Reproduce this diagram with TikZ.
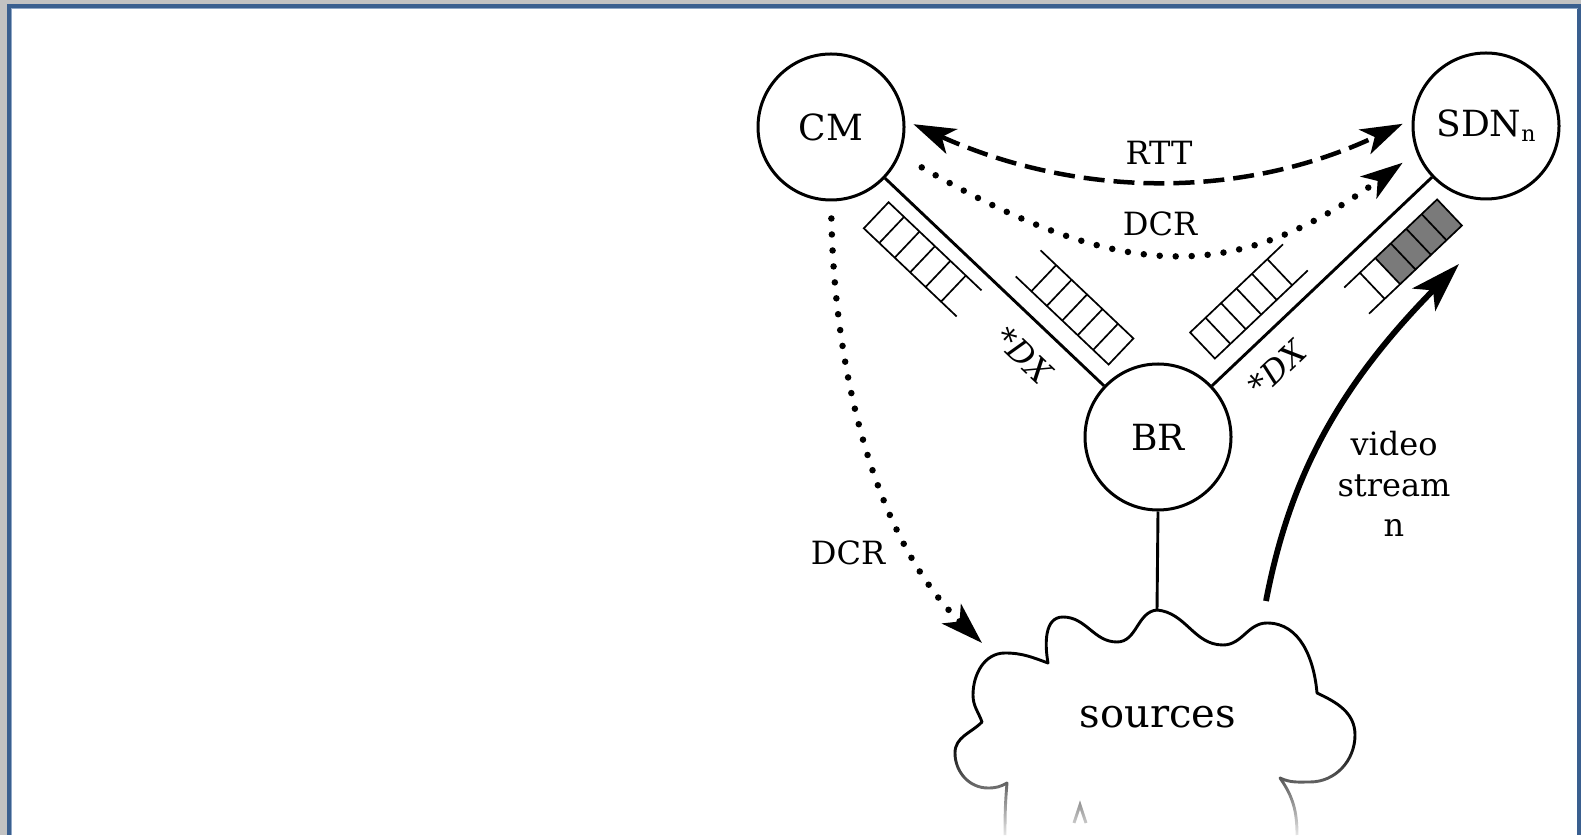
\documentclass[tikz,border=0pt]{standalone}
\usepackage{fontspec}
\setmainfont{DejaVu Serif}
\usetikzlibrary{arrows.meta,fadings}

\definecolor{framegray}{HTML}{C2C2C2}
\definecolor{frameblue}{HTML}{3A5F8F}
\definecolor{frameedge}{HTML}{8FA7C6}
\definecolor{queuegray}{HTML}{7A7A7A}

% white veil that hides the lower rim of the cloud progressively
\tikzfading[name=cloudfade, top color=transparent!100, bottom color=transparent!8]

% a buffer: closed end at the origin, five cells along +x, open tail
\newcommand{\drawqueue}[4]{%
  \begin{scope}[shift={(#1,#2)}, rotate=#3, line width=1.7pt]
    \ifnum#4>0 \fill[queuegray] (0,-18) rectangle (#4*21.3,18);\fi
    \draw (128,-18) -- (0,-18) -- (0,18) -- (128,18);
    \foreach \k in {1,...,5} \draw (\k*21.3,-18) -- (\k*21.3,18);
  \end{scope}}

\begin{document}
\begin{tikzpicture}[x=1pt,y=1pt,
  station/.style={circle, draw, line width=3pt, minimum size=146pt,
    inner sep=0pt, font=\fontsize{36}{36}\selectfont},
  link/.style={line width=2.9pt},
  lbl/.style={inner sep=0pt, font=\fontsize{32}{40.5}\selectfont},
  dashlink/.style={line width=4.5pt, dash pattern=on 21pt off 9pt},
  dotlink/.style={line width=6.5pt, line cap=round, dash pattern=on 0pt off 16pt},
  streamlink/.style={line width=5.8pt, -{Stealth[length=50pt,width=32pt,inset=13pt]}},
]
\useasboundingbox (0,0) rectangle (1581,835);

% window frame
\fill[framegray] (0,0) rectangle (1581,835);
\fill[frameblue] (7,0) rectangle (1581,831);
\fill[white] (12,0) rectangle (1577,826);
\draw[frameedge, line width=1pt] (11.5,0) -- (11.5,826.5) -- (1577.5,826.5);

% nodes
\node[station] (CM)  at (831,708)  {CM};
\node[station] (SDN) at (1486,709) {SDN\raisebox{-0.28ex}{\fontsize{22}{22}\selectfont n}};
\node[station] (BR)  at (1158,398) {BR};

\coordinate (cloudtop)  at (1157,225);
\coordinate (cloudleft) at (982,192);
\coordinate (streamsrc) at (1266,234);
\coordinate (streamtip) at (1459,571);

% links
\draw[link] (CM) -- (BR);
\draw[link] (BR) -- (SDN);
\draw[link] (BR.south) -- (cloudtop);

% buffers along the links
\drawqueue{876.2}{619.7}{-43.5}{0}
\drawqueue{1121}{483.5}{136.5}{0}
\drawqueue{1202.5}{489.5}{43.5}{0}
\drawqueue{1449.5}{622.5}{223.5}{4}

\node[lbl, rotate=-43.5, font=\fontsize{32}{32}\selectfont\itshape] at (1024,480) {*DX};
\node[lbl, rotate=43.5, font=\fontsize{32}{32}\selectfont\itshape] at (1277,467) {*DX};

% sources cloud
\draw[line width=2.9pt, line join=round]
  (cloudtop) to[out=-5,in=180] (1223,190) to[out=0,in=180] (1267,212)
  to[out=0,in=95] (1317,142) to[out=-25,in=90] (1355,100)
  to[out=-90,in=0] (1310,53) to[out=180,in=-25] (1280,57)
  to[out=-55,in=90] (1297,0);
\draw[line width=2.9pt, line join=round]
  (cloudtop) to[out=185,in=0] (1117,193) to[out=180,in=0] (1063,218)
  to[out=180,in=100] (1048,172) to[out=160,in=0] (1005,182)
  to[out=180,in=90] (973,140) to[out=-90,in=110] (982,113)
  to[out=-135,in=90] (955,82) to[out=-90,in=180] (988,47)
  to[out=0,in=-150] (1007,52) to[out=-95,in=90] (1005,0);
\draw[line width=2.9pt] (1074,12) -- (1080,30) -- (1086,12);
\fill[white, path fading=cloudfade] (930,-2) rectangle (1380,92);
\node[inner sep=0pt, font=\fontsize{40}{40}\selectfont] (src) at (1158,118) {sources};

% signalling
\draw[dashlink, {Stealth[length=42pt,width=27pt,inset=11pt]}-{Stealth[length=42pt,width=27pt,inset=11pt]},
      shorten <=9pt, shorten >=10pt]
  (CM.5) .. controls (1080,636) and (1244,636) .. (SDN.175);
\node[lbl] at (1159,682) {RTT};

\draw[dotlink, -{Stealth[length=42pt,width=27pt,inset=11pt]}, shorten <=25pt, shorten >=17pt]
  (CM.-22) .. controls (1124,551) and (1236,551) .. (SDN.201);
\node[lbl] at (1160,611) {DCR};

\draw[dotlink, -{Stealth[length=42pt,width=27pt,inset=11pt]}, shorten <=17pt]
  (CM.south) .. controls (835,450) and (880,290) .. (cloudleft);
\node[lbl] at (848,282) {DCR};

% video flow
\draw[streamlink] (streamsrc) .. controls (1290,360) and (1340,450) .. (streamtip);
\node[lbl, align=center] at (1394,351) {video\\stream\\n};
\end{tikzpicture}
\end{document}
